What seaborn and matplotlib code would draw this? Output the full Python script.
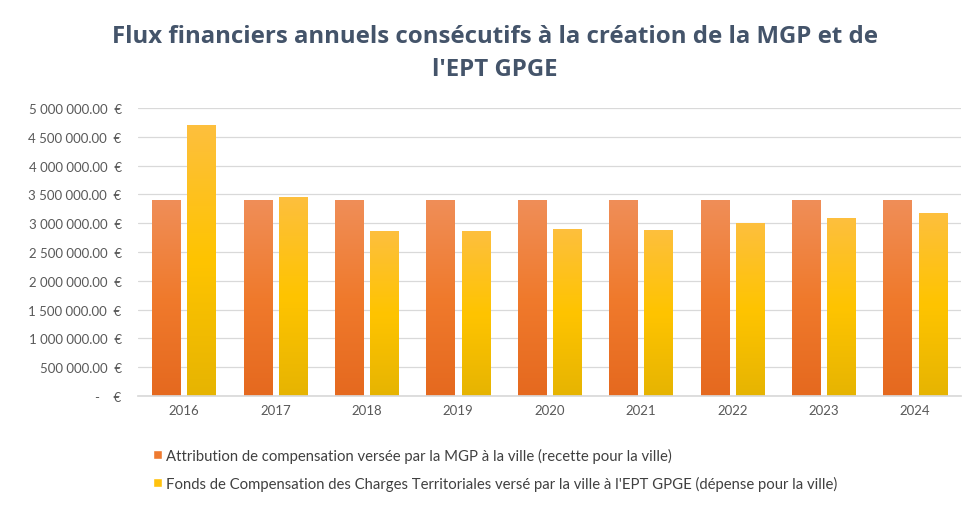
import numpy as np
import pandas as pd
import matplotlib
matplotlib.use("Agg")
import matplotlib.pyplot as plt
import seaborn as sns
from matplotlib.colors import LinearSegmentedColormap
from matplotlib.patches import Patch

years = ["2016", "2017", "2018", "2019", "2020", "2021", "2022", "2023", "2024"]
attribution = [3400000, 3400000, 3400000, 3400000, 3400000, 3400000, 3400000, 3400000, 3400000]
fcct = [4710000, 3460000, 2860000, 2860000, 2900000, 2890000, 3000000, 3090000, 3180000]
series_names = [
    "Attribution de compensation versée par la MGP à la ville (recette pour la ville)",
    "Fonds de Compensation des Charges Territoriales versé par la ville à l'EPT GPGE (dépense pour la ville)",
]
title_lines = ["Flux financiers annuels consécutifs à la création de la MGP et de", "l'EPT GPGE"]
yticks = [0, 500000, 1000000, 1500000, 2000000, 2500000, 3000000, 3500000, 4000000, 4500000, 5000000]

df = pd.DataFrame({
    "Année": years * 2,
    "Montant": attribution + fcct,
    "Série": [series_names[0]] * len(years) + [series_names[1]] * len(years),
})

sns.set_theme(style="white")
plt.rcParams['font.family'] = ['Lato', 'DejaVu Sans']

base_colors = ["#EE7A30", "#FFC20E"]
grads = [
    ["#EF8E58", "#F07A2C", "#E5691F"],
    ["#FDBF3E", "#FFC400", "#E6B402"],
]

W, H = 963, 506
fig = plt.figure(figsize=(W / 100, H / 100), dpi=100)
ax = fig.add_axes([0.1435, 0.2154, 0.8541, 0.5692])

sns.barplot(data=df, x="Année", y="Montant", hue="Série", palette=base_colors,
            width=0.77, gap=0.2, ax=ax, legend=False, linewidth=0, saturation=1)

n = len(years)
for i, patch in enumerate(ax.patches[:2 * n]):
    s = i // n
    cmap = LinearSegmentedColormap.from_list(f"g{s}", grads[s][::-1])
    x0, y0 = patch.get_x(), patch.get_y()
    w, h = patch.get_width(), patch.get_height()
    grad = np.linspace(0, 1, 256).reshape(-1, 1)
    im = ax.imshow(grad, cmap=cmap, aspect="auto", origin="lower",
                   extent=[x0, x0 + w, y0, y0 + h], zorder=patch.get_zorder() + 0.1)
    im.set_clip_path(patch)

ax.set_xlim(-0.5, n - 0.5)
ax.set_ylim(0, 5000000)
ax.set_yticks(yticks)

def fmt(v):
    if v == 0:
        return "-    €"
    return f"{v:,.2f}".replace(",", " ") + "  €"

ax.set_yticklabels([fmt(v) for v in yticks])
ax.grid(axis="y", color="#D9D9D9", linewidth=0.9)
ax.set_axisbelow(True)
for sp in ax.spines.values():
    sp.set_visible(False)
ax.spines["bottom"].set_visible(True)
ax.spines["bottom"].set_color("#D9D9D9")
ax.tick_params(axis="y", length=0, pad=12, labelsize=9.5, labelcolor="#595959")
ax.tick_params(axis="x", length=0, pad=6, labelsize=9.5, labelcolor="#595959")
ax.set_xlabel("")
ax.set_ylabel("")

for k, (line, yc) in enumerate(zip(title_lines, [37, 70])):
    fig.text(495 / W, 1 - yc / H, line, ha="center", va="center", fontsize=17.3,
             fontweight="bold", color="#44546A", family=["Open Sans", "DejaVu Sans"])

handles = [Patch(facecolor=base_colors[0]), Patch(facecolor=base_colors[1])]
leg = fig.legend(handles, series_names, loc="upper left",
                 bbox_to_anchor=(0.159, 0.113), bbox_transform=fig.transFigure,
                 frameon=False, fontsize=10.7, labelcolor="#404040",
                 handlelength=0.6, handleheight=0.6, handletextpad=0.3,
                 labelspacing=0.85, borderaxespad=0, borderpad=0)

fig.savefig("out.png", dpi=100, facecolor="white")
